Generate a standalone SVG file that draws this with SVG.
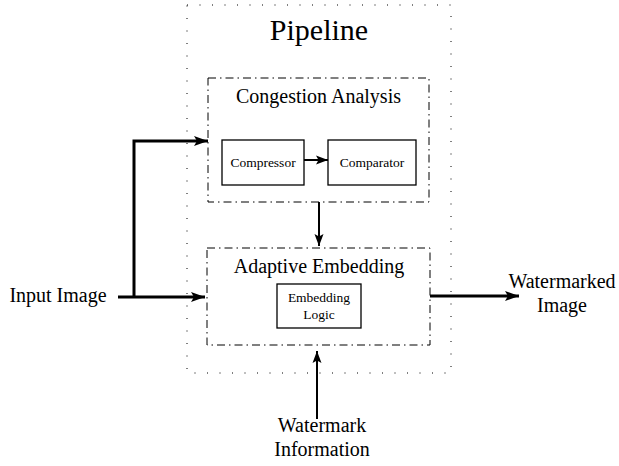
<svg xmlns="http://www.w3.org/2000/svg" width="619" height="466" viewBox="0 0 619 466">
  <style>
    text { font-family: "Liberation Serif", "Times New Roman", serif; fill: #000; text-anchor: middle; }
    .big { font-size: 30px; }
    .mid { font-size: 20px; }
    .small { font-size: 13.5px; }
    .dotted { fill: none; stroke: #000; stroke-width: 1; stroke-dasharray: 1 11.5; }
    .dashdot { fill: none; stroke: #000; stroke-width: 1; stroke-dasharray: 8 4 1.5 4; }
    .box { fill: #fff; stroke: #000; stroke-width: 1.3; }
    .thick { fill: none; stroke: #000; stroke-width: 3; }
    .thin { fill: none; stroke: #000; stroke-width: 2; }
  </style>
  <defs>
    <marker id="arrowBig" markerUnits="userSpaceOnUse" markerWidth="16" markerHeight="12" refX="14" refY="6" orient="auto">
      <path d="M0,1 L14,6 L0,11 L3,6 Z" fill="#000"/>
    </marker>
    <marker id="arrowSmall" markerUnits="userSpaceOnUse" markerWidth="14" markerHeight="12" refX="12" refY="5" orient="auto">
      <path d="M0,0.5 L12,5 L0,9.5 L2.5,5 Z" fill="#000"/>
    </marker>
  </defs>

  <g id="pipeline">
    <rect class="dotted" x="187" y="5" width="264" height="368"/>
    <text class="big" x="319" y="40">Pipeline</text>
  </g>

  <g id="congestion-analysis">
    <rect class="dashdot" x="208" y="78" width="221" height="124"/>
    <text class="mid" x="318.5" y="103">Congestion Analysis</text>
  </g>

  <g id="compressor">
    <rect class="box" x="222" y="140" width="82" height="45"/>
    <text class="small" x="263" y="167">Compressor</text>
  </g>

  <g id="comparator">
    <rect class="box" x="328" y="140" width="88" height="45"/>
    <text class="small" x="372" y="167">Comparator</text>
  </g>

  <g id="adaptive-embedding">
    <rect class="dashdot" x="207" y="248" width="223" height="97"/>
    <text class="mid" x="319" y="273">Adaptive Embedding</text>
  </g>

  <g id="embedding-logic">
    <rect class="box" x="277" y="284" width="84" height="44"/>
    <text class="small" x="319" y="302">Embedding</text>
    <text class="small" x="319" y="319">Logic</text>
  </g>

  <g id="input-image">
    <text class="mid" x="58" y="302">Input Image</text>
  </g>

  <g id="watermarked-image">
    <text class="mid" x="562" y="288">Watermarked</text>
    <text class="mid" x="562" y="312">Image</text>
  </g>

  <g id="watermark-information">
    <text class="mid" x="322" y="432">Watermark</text>
    <text class="mid" x="322" y="456">Information</text>
  </g>

  <g id="connectors">
    <path class="thick" d="M118,297 L205,297" marker-end="url(#arrowBig)"/>
    <path class="thick" d="M134,298 L134,141 L208,141" marker-end="url(#arrowBig)"/>
    <path class="thick" d="M430,296 L519,296" marker-end="url(#arrowBig)"/>
    <path class="thin" d="M304,160 L328,160" marker-end="url(#arrowSmall)"/>
    <path class="thin" d="M319,202 L319,246" marker-end="url(#arrowSmall)"/>
    <path class="thin" d="M317,419 L317,351" marker-end="url(#arrowSmall)"/>
  </g>
</svg>
